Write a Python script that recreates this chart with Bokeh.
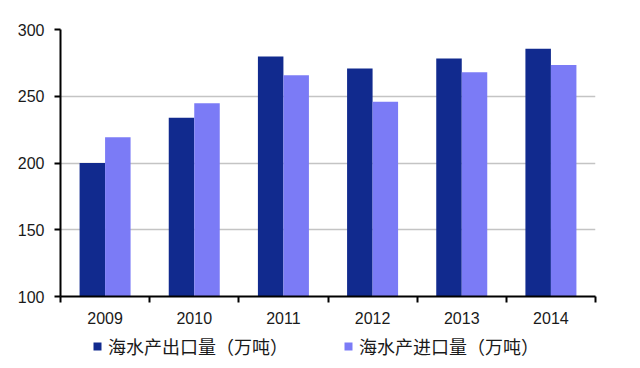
from bokeh.plotting import figure
from bokeh.models import FixedTicker, Legend, LegendItem, Range1d, ColumnDataSource
from bokeh.layouts import column
from bokeh.transform import dodge
from bokeh.embed import file_html
from bokeh.resources import INLINE
import numpy as np

years = ["2009", "2010", "2011", "2012", "2013", "2014"]
export_vals = [200.0, 233.9, 279.8, 270.8, 278.3, 285.5]
import_vals = [219.3, 244.8, 265.8, 245.8, 268.0, 273.4]
y_ticks = [100, 150, 200, 250, 300]
series_names = ["海水产出口量（万吨）", "海水产进口量（万吨）"]
colors = ["#112A8E", "#7B7BF6"]

n = len(years)
centers = np.arange(n) + 0.5
bw = 0.286

p = figure(width=624, height=332, output_backend="svg", toolbar_location=None,
           x_range=Range1d(0, n), y_range=Range1d(100, 300),
           min_border_left=60, min_border_right=29, min_border_top=29, min_border_bottom=36)
p.outline_line_color = None
p.background_fill_color = "white"
p.border_fill_color = "white"

src = ColumnDataSource(dict(x=centers, exp=export_vals, imp=import_vals))
r1 = p.vbar(x=dodge("x", -bw / 2), top="exp", bottom=100, width=bw, source=src,
            fill_color=colors[0], line_color=None)
r2 = p.vbar(x=dodge("x", bw / 2), top="imp", bottom=100, width=bw, source=src,
            fill_color=colors[1], line_color=None)

# axes
p.xgrid.grid_line_color = None
p.ygrid.grid_line_color = "#C4C4C4"
p.ygrid.grid_line_width = 1.5
p.yaxis.ticker = FixedTicker(ticks=y_ticks)
p.yaxis.axis_line_color = "black"
p.yaxis.axis_line_width = 2
p.yaxis.major_tick_line_color = "black"
p.yaxis.major_tick_line_width = 2
p.yaxis.major_tick_out = 6
p.yaxis.major_tick_in = 0
p.yaxis.minor_tick_line_color = None
p.yaxis.major_label_standoff = 10
p.yaxis.major_label_text_font = "Liberation Sans"
p.yaxis.major_label_text_font_size = "16px"
p.yaxis.major_label_text_color = "#1a1a1a"

p.xaxis.ticker = FixedTicker(ticks=list(centers), minor_ticks=list(range(n + 1)))
p.xaxis.major_label_overrides = {float(c): y for c, y in zip(centers, years)}
p.xaxis.axis_line_color = "black"
p.xaxis.axis_line_width = 2
p.xaxis.major_tick_line_color = None
p.xaxis.minor_tick_line_color = "black"
p.xaxis.minor_tick_line_width = 2
p.xaxis.minor_tick_out = 6
p.xaxis.minor_tick_in = 0
p.xaxis.major_label_standoff = 9
p.xaxis.major_label_text_font = "Liberation Sans"
p.xaxis.major_label_text_font_size = "16px"
p.xaxis.major_label_text_color = "#1a1a1a"

# legend strip (its renderers sit outside its visible range; only the legend shows)
lf = figure(width=624, height=34, output_backend="svg", toolbar_location=None,
            x_range=Range1d(0, n), y_range=Range1d(1000, 1001),
            x_axis_type=None, y_axis_type=None,
            min_border_left=60, min_border_right=29, min_border_top=0, min_border_bottom=0)
lf.outline_line_color = None
lf.xgrid.grid_line_color = None
lf.ygrid.grid_line_color = None
l1 = lf.vbar(x="x", top="exp", bottom=100, width=bw, source=src, fill_color=colors[0], line_color=None)
l2 = lf.vbar(x="x", top="imp", bottom=100, width=bw, source=src, fill_color=colors[1], line_color=None)

legend = Legend(items=[LegendItem(label=series_names[0], renderers=[l1]),
                       LegendItem(label=series_names[1], renderers=[l2])],
                location=(32, 7), orientation="horizontal",
                padding=0, margin=0, spacing=55, border_line_color=None,
                background_fill_alpha=0, glyph_width=10, glyph_height=10,
                label_standoff=6, label_text_font="Noto Sans CJK SC",
                label_text_font_size="18px", label_text_color="#1a1a1a",
                label_height=18)
lf.add_layout(legend)

layout = column(p, lf, spacing=0)
open("out.html", "w").write(file_html(layout, INLINE))
